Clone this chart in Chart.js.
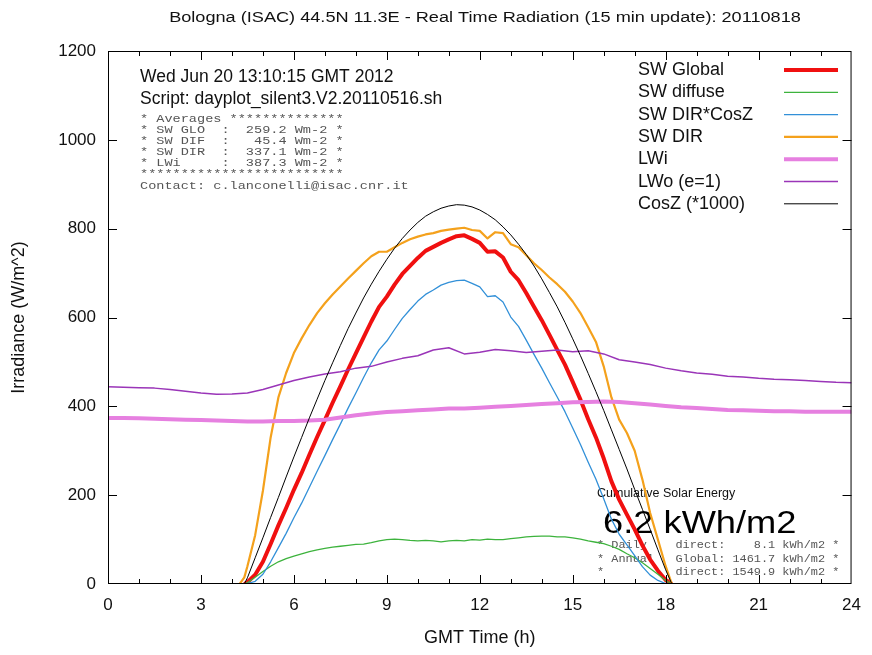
<!DOCTYPE html>
<html>
<head>
<meta charset="utf-8">
<title>Bologna (ISAC) Real Time Radiation</title>
<script src="https://cdn.jsdelivr.net/npm/chart.js@4.4.1/dist/chart.umd.min.js"></script>
<style>
  html, body { margin:0; padding:0; background:#fff; }
  canvas { display:block; }
</style>
</head>
<body>
<canvas id="radChart" width="872" height="655"></canvas>
<script>
// --- data ---
const dayHours = [3.75, 4, 4.25, 4.4,
  4.5, 4.75, 5, 5.25, 5.5, 5.75, 6, 6.25, 6.5, 6.75,
  7, 7.25, 7.5, 7.75, 8, 8.25, 8.5, 8.75, 9, 9.25,
  9.5, 9.75, 10, 10.25, 10.5, 10.75, 11, 11.25, 11.5, 11.75,
  12, 12.25, 12.5, 12.75, 13, 13.25, 13.5, 13.75, 14, 14.25,
  14.5, 14.75, 15, 15.25, 15.5, 15.75, 16, 16.25, 16.5, 16.75,
  17, 17.25, 17.5, 17.75, 18, 18.2];

const swGlobal = [null, null, null, 0,
  4, 21, 50, 90, 132, 171, 212, 250, 291, 331,
  369, 408, 445, 483, 519, 555, 591, 624, 647, 674,
  698, 716, 734, 750, 759, 768, 776, 783, 785, 777,
  768, 748, 749, 735, 703, 684, 655, 624, 594, 561,
  527, 494, 455, 415, 371, 330, 283, 231, 190, 156,
  123, 87, 55, 30, 9, 0];

const swDiffuse = [null, null, null, 0,
  3, 15, 28, 40, 50, 57, 63, 68, 73, 77,
  80, 83, 85, 87, 89, 90, 93, 97, 100, 101,
  100, 98, 97, 98, 97, 95, 97, 98, 97, 100,
  99, 101, 100, 100, 102, 104, 106, 107, 108, 108,
  106, 106, 104, 101, 97, 94, 91, 85, 78, 68,
  59, 48, 35, 22, 8, 0];

const swDirCosZ = [null, null, null, 0,
  1, 6, 22, 50, 82, 114, 149, 182, 218, 254,
  289, 325, 360, 396, 430, 465, 498, 527, 547, 573,
  598, 618, 637, 652, 662, 673, 679, 683, 684, 677,
  669, 647, 649, 635, 601, 580, 549, 517, 486, 453,
  421, 388, 351, 314, 274, 236, 192, 146, 112, 88,
  64, 39, 20, 8, 1, 0];

const swDir = [0, 0, 0, 15,
  40, 110, 210, 330, 420, 475, 520, 553, 583, 610,
  632, 652, 670, 688, 705, 722, 738, 748, 748, 758,
  768, 776, 782, 787, 790, 795, 798, 800, 802, 797,
  795, 778, 792, 790, 765, 758, 740, 722, 707, 690,
  675, 658, 636, 610, 578, 545, 490, 420, 370, 340,
  300, 235, 160, 100, 40, 0];

const cosZ = [null, null, null, 0,
  14, 59, 104, 150, 195, 241, 286, 330, 374, 416,
  458, 498, 537, 575, 610, 644, 675, 704, 731, 756,
  778, 797, 814, 828, 838, 846, 851, 854, 853, 849,
  842, 832, 820, 804, 786, 765, 742, 716, 687, 656,
  624, 589, 552, 514, 474, 433, 391, 347, 303, 259,
  213, 168, 123, 77, 32, 0];

const lwHours = [0, 0.5, 1, 1.5, 2, 2.5, 3, 3.5, 4, 4.5,
  5, 5.5, 6, 6.5, 7, 7.5, 8, 8.5, 9, 9.5,
  10, 10.5, 11, 11.5, 12, 12.5, 13, 13.5, 14, 14.5,
  15, 15.5, 16, 16.5, 17, 17.5, 18, 18.5, 19, 19.5,
  20, 20.5, 21, 21.5, 22, 22.5, 23, 23.5, 24];

const lwIn = [374, 374, 373, 372, 371, 370, 369, 368, 367, 366,
  366, 367, 367, 368, 370, 375, 380, 384, 387, 389,
  391, 393, 395, 395, 397, 399, 401, 403, 405, 407,
  409, 410, 411, 410, 407, 404, 401, 398, 396, 394,
  392, 391, 390, 389, 389, 388, 388, 388, 388];

const lwOut = [444, 443, 442, 441, 438, 434, 430, 427, 428, 430,
  438, 448, 458, 466, 473, 478, 486, 490, 500, 508,
  514, 527, 532, 518, 522, 528, 525, 521, 524, 527,
  523, 525, 518, 505, 500, 494, 486, 480, 475, 472,
  468, 466, 463, 461, 460, 458, 456, 454, 453];

const titleText = 'Bologna (ISAC) 44.5N 11.3E - Real Time Radiation (15 min update): 20110818';
const headerLines = ['Wed Jun 20 13:10:15 GMT 2012', 'Script: dayplot_silent3.V2.20110516.sh'];
const averageLines = [
  '* Averages **************',
  '* SW GLO  :  259.2 Wm-2 *',
  '* SW DIF  :   45.4 Wm-2 *',
  '* SW DIR  :  337.1 Wm-2 *',
  '* LWi     :  387.3 Wm-2 *',
  '*************************'
];
const contactLine = 'Contact: c.lanconelli@isac.cnr.it';
const energyLabel = 'Cumulative Solar Energy';
const energyValue = '6.2 kWh/m2';
const energyLines = [
  '* Daily    direct:    8.1 kWh/m2 *',
  '* Annual   Global: 1461.7 kWh/m2 *',
  '*          direct: 1549.9 kWh/m2 *'
];

const SANS = "'Liberation Sans', Arial, sans-serif";
const MONO = "'Liberation Mono', 'Courier New', monospace";

function pts(hours, vals){
  return hours.map((h, i) => ({ x: h, y: vals[i] }));
}

function mk(label, hours, vals, color, width, order){
  return {
    label, data: pts(hours, vals),
    borderColor: color, backgroundColor: color,
    borderWidth: width, pointRadius: 0, tension: 0,
    borderJoinStyle: 'round', spanGaps: false, order
  };
}

// stretched text helper (the original png was resampled horizontally)
function txt(ctx, s, x, y, font, color, sx, align){
  ctx.save();
  ctx.font = font;
  ctx.fillStyle = color;
  ctx.textAlign = align || 'left';
  ctx.textBaseline = 'alphabetic';
  ctx.translate(x, y);
  ctx.scale(sx || 1, 1);
  ctx.fillText(s, 0, 0);
  ctx.restore();
}

const decor = {
  id: 'decor',
  beforeDraw(chart){
    const c = chart.ctx;
    c.save();
    c.fillStyle = '#fff';
    c.fillRect(0, 0, chart.width, chart.height);
    c.restore();
    txt(c, titleText, 485, 22, '15.5px ' + SANS, '#111', 1.17, 'center');
  },
  beforeDatasetsDraw(chart){
    const c = chart.ctx;
    txt(c, headerLines[0], 140, 82, '17.5px ' + SANS, '#111');
    txt(c, headerLines[1], 140, 104, '17.5px ' + SANS, '#111');
    averageLines.forEach((s, i) => txt(c, s, 140, 122 + i * 11, '11.5px ' + MONO, '#555', 1.18));
    txt(c, contactLine, 140, 189, '11.5px ' + MONO, '#555', 1.18);

    txt(c, energyLabel, 597, 497, '12.5px ' + SANS, '#111');
    txt(c, energyValue, 603, 533, '31px ' + SANS, '#000', 1.17);
    energyLines.forEach((s, i) => txt(c, s, 597, 548 + i * 13.5, '11px ' + MONO, '#555', 1.08));
  },
  afterDatasetsDraw(chart){
    const c = chart.ctx;
    const a = chart.chartArea;
    const xs = chart.scales.x, ys = chart.scales.y;
    c.save();
    c.strokeStyle = '#000';
    c.lineWidth = 1;
    c.beginPath();
    // inward ticks, gnuplot style
    for (let h = 1; h < 24; h++){
      const px = Math.round(xs.getPixelForValue(h)) + 0.5;
      const len = h % 3 === 0 ? 9 : 5;
      c.moveTo(px, a.bottom); c.lineTo(px, a.bottom - len);
      c.moveTo(px, a.top); c.lineTo(px, a.top + len);
    }
    for (let v = 200; v < 1200; v += 200){
      const py = Math.round(ys.getPixelForValue(v)) + 0.5;
      c.moveTo(a.left, py); c.lineTo(a.left + 9, py);
      c.moveTo(a.right, py); c.lineTo(a.right - 9, py);
    }
    c.stroke();
    c.strokeRect(a.left + 0.5, a.top + 0.5, a.right - a.left - 1, a.bottom - a.top - 1);
    c.restore();

    // legend, top right inside the frame
    chart.data.datasets.forEach((d, i) => {
      const y = 70 + i * 22.3;
      txt(c, d.label, 638, y + 5, '18px ' + SANS, '#111');
      c.save();
      c.strokeStyle = d.borderColor;
      c.lineWidth = d.borderWidth;
      c.beginPath();
      c.moveTo(784, y); c.lineTo(838, y);
      c.stroke();
      c.restore();
    });
  }
};

new Chart(document.getElementById('radChart'), {
  type: 'line',
  data: {
    datasets: [
      mk('SW Global', dayHours, swGlobal, '#f01010', 4, 7),
      mk('SW diffuse', dayHours, swDiffuse, '#3db33d', 1.3, 6),
      mk('SW DIR*CosZ', dayHours, swDirCosZ, '#3290d8', 1.3, 5),
      mk('SW DIR', dayHours, swDir, '#f4a11c', 2.2, 4),
      mk('LWi', lwHours, lwIn, '#e680e0', 4, 3),
      mk('LWo (e=1)', lwHours, lwOut, '#9a35b8', 1.5, 2),
      mk('CosZ (*1000)', dayHours, cosZ, '#000000', 1, 1)
    ]
  },
  options: {
    responsive: false,
    animation: false,
    layout: { padding: { top: 51, right: 11, left: 0, bottom: 0 } },
    plugins: { legend: { display: false }, tooltip: { enabled: false }, title: { display: false } },
    scales: {
      x: {
        type: 'linear', min: 0, max: 24,
        afterFit: s => { s.height = 71; },
        grid: { display: false, drawTicks: false },
        border: { display: false },
        ticks: { stepSize: 3, padding: 11, color: '#111', font: { family: SANS, size: 17 }, callback: v => String(v) },
        title: { display: true, text: 'GMT Time (h)', color: '#111', font: { family: SANS, size: 18 }, padding: { bottom: 6 } }
      },
      y: {
        min: 0, max: 1200,
        afterFit: s => { s.width = 108; },
        grid: { display: false, drawTicks: false },
        border: { display: false },
        ticks: { stepSize: 200, padding: 12, color: '#111', font: { family: SANS, size: 17 }, callback: v => String(v) },
        title: { display: true, text: 'Irradiance (W/m^2)', color: '#111', font: { family: SANS, size: 18 }, padding: { top: 8 } }
      }
    }
  },
  plugins: [decor]
});
</script>
</body>
</html>
